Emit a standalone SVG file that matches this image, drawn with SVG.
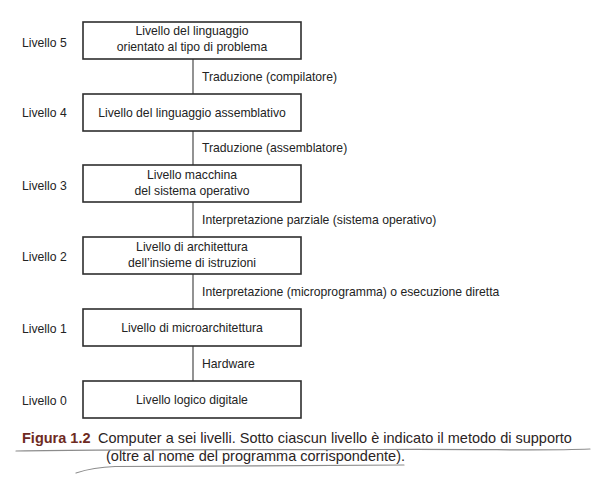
<svg xmlns="http://www.w3.org/2000/svg" width="598" height="495" viewBox="0 0 598 495">
  <style>
    .box { fill: #ffffff; stroke: #2e2e2e; stroke-width: 1.6; }
    .link { stroke: #3a3a3a; stroke-width: 1.1; fill: none; }
    .t { font-family: "Liberation Sans", Arial, sans-serif; font-size: 12.2px; fill: #232323; }
    .mid { text-anchor: middle; }
    .cap { font-family: "Liberation Sans", Arial, sans-serif; font-size: 14.5px; fill: #2b2424; }
    .fig { font-weight: bold; fill: #6e2a22; }
    .pencil { stroke: #8c8c8c; stroke-width: 1.2; fill: none; stroke-linecap: round; }
  </style>
  <rect width="598" height="495" fill="#ffffff"/>

  <!-- vertical links between levels, with their support method -->
  <g id="connectors">
    <line class="link" x1="193" y1="59" x2="193" y2="94"/>
    <line class="link" x1="193" y1="131" x2="193" y2="165"/>
    <line class="link" x1="193" y1="202" x2="193" y2="237"/>
    <line class="link" x1="193" y1="274" x2="193" y2="309"/>
    <line class="link" x1="193" y1="346" x2="193" y2="381"/>
    <text class="t" x="202" y="80.5">Traduzione (compilatore)</text>
    <text class="t" x="202" y="152">Traduzione (assemblatore)</text>
    <text class="t" x="202" y="223.5">Interpretazione parziale (sistema operativo)</text>
    <text class="t" x="202" y="295.5">Interpretazione (microprogramma) o esecuzione diretta</text>
    <text class="t" x="202" y="367.5">Hardware</text>
  </g>

  <g id="level5">
    <text class="t" x="22" y="46.5">Livello 5</text>
    <rect class="box" x="83" y="22" width="218" height="37"/>
    <text class="t mid" x="192" y="35">Livello del linguaggio</text>
    <text class="t mid" x="192" y="50.5">orientato al tipo di problema</text>
  </g>

  <g id="level4">
    <text class="t" x="22" y="117">Livello 4</text>
    <rect class="box" x="83" y="94" width="218" height="37"/>
    <text class="t mid" x="192" y="117">Livello del linguaggio assemblativo</text>
  </g>

  <g id="level3">
    <text class="t" x="22" y="189.5">Livello 3</text>
    <rect class="box" x="83" y="165" width="218" height="37"/>
    <text class="t mid" x="192" y="179">Livello macchina</text>
    <text class="t mid" x="192" y="194.5">del sistema operativo</text>
  </g>

  <g id="level2">
    <text class="t" x="22" y="261">Livello 2</text>
    <rect class="box" x="83" y="237" width="218" height="37"/>
    <text class="t mid" x="192" y="251">Livello di architettura</text>
    <text class="t mid" x="192" y="266.5">dell’insieme di istruzioni</text>
  </g>

  <g id="level1">
    <text class="t" x="22" y="333">Livello 1</text>
    <rect class="box" x="83" y="309" width="218" height="37"/>
    <text class="t mid" x="192" y="332">Livello di microarchitettura</text>
  </g>

  <g id="level0">
    <text class="t" x="22" y="404.5">Livello 0</text>
    <rect class="box" x="83" y="381" width="218" height="37"/>
    <text class="t mid" x="192" y="404">Livello logico digitale</text>
  </g>

  <!-- caption -->
  <g id="caption">
    <text class="cap fig" x="22" y="443">Figura 1.2</text>
    <text class="cap" x="98" y="443">Computer a sei livelli. Sotto ciascun livello è indicato il metodo di supporto</text>
    <text class="cap" x="106" y="461">(oltre al nome del programma corrispondente).</text>
    <path class="pencil" d="M16 451 C120 449 260 450 380 449.5 S 540 451 590 449"/>
    <path class="pencil" d="M76 473 C88 469 98 467 115 466.5 C200 466 320 466 404 465"/>
  </g>
</svg>
